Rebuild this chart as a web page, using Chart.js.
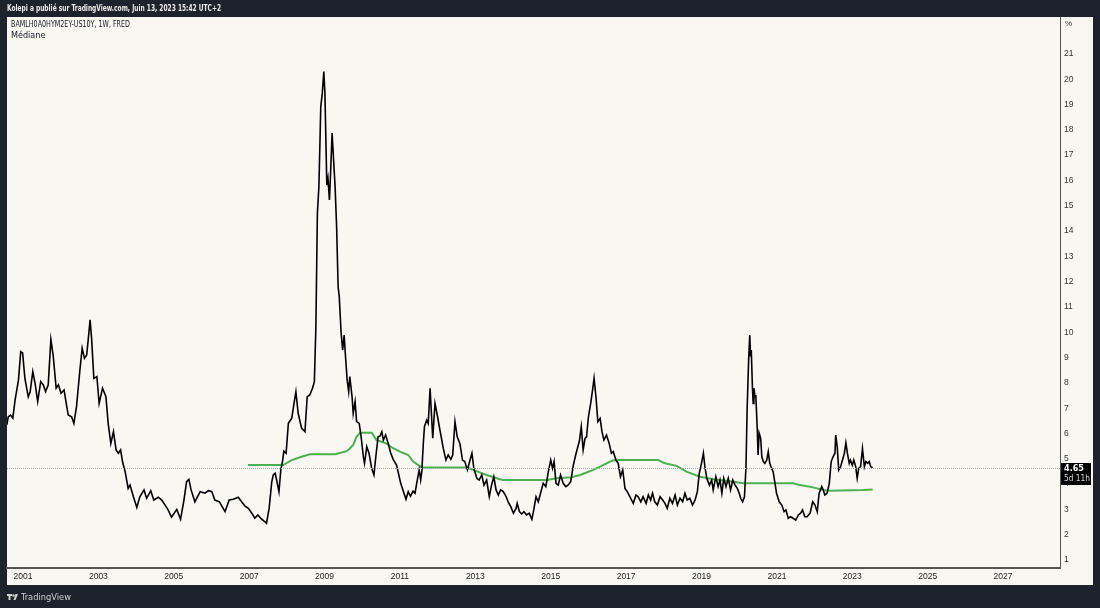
<!DOCTYPE html>
<html>
<head>
<meta charset="utf-8">
<script src="https://cdn.jsdelivr.net/npm/chart.js@4.4.0/dist/chart.umd.min.js"></script>
<style>
  html, body { margin: 0; padding: 0; background: #1e222d; }
  #wrap { width: 1100px; height: 608px; position: relative; }
</style>
</head>
<body>
<div id="wrap"><canvas id="grafica" width="1100" height="608"></canvas></div>
<script>
// spread high yield - US10Y, semanal (lectura aproximada)
var hyYears = [2000.57,2000.61,2000.67,2000.73,2000.79,2000.88,2000.94,2000.99,2001.05,2001.14,2001.19,2001.26,2001.32,2001.39,2001.47,2001.54,2001.60,2001.67,2001.74,2001.80,2001.88,2001.94,2002.01,2002.09,2002.14,2002.20,2002.29,2002.35,2002.42,2002.51,2002.57,2002.63,2002.69,2002.73,2002.78,2002.82,2002.88,2002.96,2003.02,2003.11,2003.20,2003.26,2003.33,2003.40,2003.47,2003.53,2003.59,2003.64,2003.71,2003.79,2003.84,2003.93,2004.02,2004.10,2004.21,2004.28,2004.39,2004.47,2004.59,2004.68,2004.77,2004.85,2004.94,2005.08,2005.18,2005.27,2005.34,2005.40,2005.46,2005.56,2005.70,2005.83,2005.92,2006.01,2006.09,2006.21,2006.36,2006.47,2006.58,2006.71,2006.80,2006.89,2006.98,2007.07,2007.15,2007.23,2007.33,2007.42,2007.46,2007.53,2007.60,2007.64,2007.69,2007.73,2007.79,2007.84,2007.89,2007.92,2007.98,2008.04,2008.13,2008.19,2008.24,2008.30,2008.39,2008.48,2008.54,2008.61,2008.68,2008.73,2008.77,2008.81,2008.85,2008.90,2008.94,2008.98,2009.01,2009.06,2009.09,2009.13,2009.16,2009.20,2009.24,2009.28,2009.32,2009.36,2009.39,2009.44,2009.48,2009.52,2009.55,2009.60,2009.64,2009.67,2009.73,2009.76,2009.81,2009.85,2009.92,2009.97,2010.03,2010.06,2010.12,2010.18,2010.25,2010.31,2010.36,2010.42,2010.47,2010.52,2010.56,2010.62,2010.69,2010.75,2010.82,2010.91,2010.96,2011.02,2011.09,2011.16,2011.22,2011.28,2011.35,2011.40,2011.46,2011.51,2011.55,2011.58,2011.62,2011.65,2011.71,2011.75,2011.80,2011.83,2011.87,2011.93,2011.99,2012.06,2012.15,2012.22,2012.28,2012.35,2012.40,2012.46,2012.52,2012.59,2012.66,2012.72,2012.79,2012.86,2012.91,2012.96,2013.04,2013.10,2013.17,2013.23,2013.30,2013.37,2013.43,2013.49,2013.55,2013.61,2013.67,2013.74,2013.81,2013.87,2013.94,2014.01,2014.08,2014.11,2014.17,2014.23,2014.29,2014.36,2014.43,2014.50,2014.55,2014.61,2014.67,2014.73,2014.80,2014.87,2014.93,2015.00,2015.05,2015.09,2015.14,2015.20,2015.26,2015.33,2015.40,2015.46,2015.53,2015.60,2015.67,2015.76,2015.81,2015.86,2015.91,2015.95,2016.00,2016.06,2016.11,2016.15,2016.20,2016.25,2016.31,2016.36,2016.41,2016.48,2016.55,2016.61,2016.66,2016.73,2016.79,2016.85,2016.91,2016.97,2017.03,2017.10,2017.19,2017.26,2017.32,2017.39,2017.45,2017.53,2017.59,2017.65,2017.70,2017.76,2017.83,2017.90,2017.97,2018.03,2018.09,2018.16,2018.23,2018.30,2018.36,2018.43,2018.50,2018.56,2018.62,2018.69,2018.76,2018.83,2018.89,2018.94,2019.00,2019.05,2019.09,2019.14,2019.21,2019.27,2019.31,2019.38,2019.44,2019.49,2019.54,2019.59,2019.65,2019.71,2019.77,2019.83,2019.89,2019.95,2020.00,2020.04,2020.09,2020.14,2020.18,2020.21,2020.25,2020.28,2020.30,2020.32,2020.35,2020.37,2020.39,2020.42,2020.44,2020.48,2020.50,2020.53,2020.57,2020.60,2020.64,2020.68,2020.73,2020.77,2020.81,2020.86,2020.90,2020.95,2020.99,2021.06,2021.13,2021.19,2021.24,2021.30,2021.36,2021.43,2021.50,2021.57,2021.63,2021.68,2021.74,2021.80,2021.88,2021.95,2022.01,2022.07,2022.12,2022.19,2022.23,2022.27,2022.33,2022.39,2022.44,2022.49,2022.54,2022.56,2022.60,2022.64,2022.69,2022.74,2022.79,2022.83,2022.87,2022.92,2022.95,2023.00,2023.04,2023.09,2023.13,2023.17,2023.22,2023.27,2023.32,2023.36,2023.41,2023.45,2023.49,2023.54];
var hyValues = [6.34,6.66,6.73,6.61,7.32,8.11,9.23,9.18,8.19,7.45,7.65,8.44,7.99,7.26,8.05,7.92,7.65,7.92,9.72,9.10,7.79,7.92,7.59,7.72,7.26,6.73,6.66,6.40,7.06,8.51,9.37,8.97,9.10,9.70,10.49,9.76,8.18,8.25,7.19,7.79,7.45,6.40,5.61,6.07,5.35,5.22,5.35,4.89,4.49,3.83,3.96,3.50,3.08,3.50,3.77,3.44,3.74,3.37,3.48,3.37,3.17,2.98,2.69,3.00,2.61,3.37,4.10,4.19,3.77,3.30,3.70,3.64,3.74,3.70,3.37,3.30,2.91,3.37,3.40,3.48,3.30,3.13,3.04,2.85,2.65,2.78,2.61,2.51,2.45,3.04,4.10,4.36,4.43,4.16,3.70,4.56,4.95,5.30,5.22,6.40,6.60,7.19,7.65,6.80,6.21,6.07,7.45,7.52,7.79,8.05,10.22,14.70,15.75,18.92,19.45,20.30,19.45,15.82,16.09,15.23,16.28,17.87,16.81,15.75,14.17,11.80,11.41,9.96,9.30,9.89,9.17,8.11,7.65,8.25,7.45,6.80,7.26,6.47,6.40,5.87,5.08,4.82,5.48,5.22,4.62,4.36,5.08,5.87,5.90,6.07,5.74,5.94,5.60,5.25,4.98,4.75,4.43,4.03,3.72,3.40,3.70,3.52,3.72,3.64,4.16,4.56,4.16,4.49,5.61,6.27,6.53,6.40,7.79,6.93,5.81,7.19,6.73,6.14,5.41,4.95,5.15,4.98,5.15,6.47,5.87,5.61,4.95,4.89,4.56,4.95,5.22,4.62,4.23,4.16,4.36,3.96,4.16,3.50,3.96,4.29,3.77,3.57,3.77,3.70,3.53,3.30,3.11,2.85,3.04,3.24,2.91,2.82,2.91,2.78,2.85,2.61,2.98,3.50,3.30,3.64,4.03,3.90,4.43,4.95,4.62,4.89,4.03,3.96,4.36,4.03,3.90,3.96,4.10,4.75,5.20,5.70,6.27,5.35,5.81,5.87,6.66,7.19,7.72,8.18,7.45,6.47,6.60,6.07,5.74,5.94,5.61,5.22,5.28,4.95,4.82,4.29,4.56,3.83,3.70,3.50,3.24,3.57,3.50,3.30,3.50,3.24,3.57,3.37,3.64,3.30,3.17,3.50,3.37,3.24,3.04,3.44,3.24,3.57,3.17,3.44,3.30,3.64,3.37,3.44,3.17,3.37,3.70,4.43,4.82,5.22,4.69,4.23,3.96,4.16,3.77,4.29,3.90,4.16,3.64,4.23,3.90,4.23,3.77,4.16,3.96,3.83,3.64,3.44,3.30,3.50,4.69,6.93,8.91,9.89,9.04,9.30,7.85,7.19,7.79,7.45,7.52,6.14,5.15,6.01,5.81,5.08,4.89,4.82,4.95,5.28,4.82,4.62,4.49,4.03,3.64,3.30,3.17,2.91,2.98,2.65,2.71,2.65,2.58,2.78,2.85,2.98,2.71,2.71,2.85,3.30,3.17,2.91,3.64,3.90,3.77,3.57,3.64,4.03,4.89,5.08,5.22,5.94,5.48,4.56,4.69,4.95,5.22,5.63,5.22,4.82,4.95,4.75,4.95,4.69,4.23,4.62,4.69,5.41,4.69,4.89,4.82,4.89,4.69,4.65];

// mediana
var medYears = [2006.97,2007.90,2008.13,2008.39,2008.61,2009.28,2009.59,2009.67,2009.76,2009.85,2009.94,2010.25,2010.38,2010.65,2010.78,2011.00,2011.22,2011.35,2011.58,2012.77,2012.94,2013.30,2013.65,2013.74,2014.89,2015.16,2015.55,2015.78,2016.13,2016.39,2016.62,2016.75,2017.85,2018.03,2018.34,2018.60,2018.96,2019.31,2019.75,2020.11,2021.43,2021.61,2021.96,2022.23,2022.40,2023.29,2023.54];
var medValues = [4.75,4.75,4.95,5.08,5.18,5.18,5.30,5.41,5.55,5.87,6.03,6.03,5.74,5.60,5.45,5.28,5.15,4.89,4.66,4.66,4.56,4.36,4.19,4.16,4.16,4.23,4.27,4.36,4.56,4.75,4.92,4.95,4.95,4.82,4.72,4.49,4.29,4.19,4.11,4.03,4.03,3.96,3.87,3.77,3.74,3.77,3.79];

var yearTicks = [2001,2003,2005,2007,2009,2011,2013,2015,2017,2019,2021,2023,2025,2027];
var priceTicks = [1,2,3,4,5,6,7,8,9,10,11,12,13,14,15,16,17,18,19,20,21];
var lastValue = 4.65;
var lastLabel = '4.65';
var countdownLabel = '5d 11h';

var colorFondo = '#1e222d';
var colorPanel = '#f8f7f2';
var fuente = '"Liberation Sans", Arial, sans-serif';
var fuenteNarrow = '"DejaVu Sans Condensed", "Liberation Sans", sans-serif';

function armarPuntos(xs, ys) {
  var pts = [];
  for (var i = 0; i < xs.length; i++) {
    pts.push({ x: xs[i], y: ys[i] });
  }
  return pts;
}

var marco = {
  id: 'marco',
  beforeDraw: function (chart) {
    var ctx = chart.ctx;
    ctx.save();
    ctx.fillStyle = colorFondo;
    ctx.fillRect(0, 0, chart.width, chart.height);
    ctx.fillStyle = colorPanel;
    ctx.fillRect(7, 17, 1086, 568);
    ctx.restore();
  },
  afterDatasetsDraw: function (chart) {
    var ctx = chart.ctx;
    var area = chart.chartArea;
    var yS = chart.scales.y;
    var yy = Math.round(yS.getPixelForValue(lastValue)) + 0.5;
    ctx.save();
    // linea punteada del ultimo valor
    ctx.strokeStyle = '#a8a8a8';
    ctx.lineWidth = 1;
    ctx.setLineDash([1, 1]);
    ctx.beginPath();
    ctx.moveTo(area.left, yy);
    ctx.lineTo(area.right, yy);
    ctx.stroke();
    ctx.restore();
  },
  afterDraw: function (chart) {
    var ctx = chart.ctx;
    var area = chart.chartArea;
    var yS = chart.scales.y;
    var yy = yS.getPixelForValue(lastValue);
    ctx.save();
    // etiqueta del precio
    ctx.fillStyle = '#000000';
    ctx.fillRect(area.right + 1, Math.round(yy) - 5, 30, 22);
    ctx.fillStyle = '#ffffff';
    ctx.font = 'bold 9px ' + fuenteNarrow;
    ctx.textBaseline = 'middle';
    ctx.textAlign = 'left';
    ctx.fillText(lastLabel, area.right + 4, Math.round(yy) + 0.5);
    ctx.fillStyle = '#d8d8d8';
    ctx.font = '9px ' + fuenteNarrow;
    ctx.fillText(countdownLabel, area.right + 4, Math.round(yy) + 11, 26);

    // unidad
    ctx.fillStyle = '#333333';
    ctx.font = '8px ' + fuente;
    ctx.fillText('%', area.right + 5, 24);

    // titulos
    ctx.fillStyle = '#131722';
    ctx.font = '9px ' + fuenteNarrow;
    ctx.fillText('BAMLH0A0HYM2EY-US10Y, 1W, FRED', 11, 25, 119);
    ctx.fillText('Médiane', 11, 36);

    ctx.fillStyle = '#ececec';
    ctx.font = '600 9px ' + fuenteNarrow;
    ctx.fillText('Kolepi a publié sur TradingView.com, Juin 13, 2023 15:42 UTC+2', 7, 9, 214);

    // logo pie
    ctx.fillStyle = '#d0d0d0';
    ctx.fillRect(7, 594, 5, 2);
    ctx.fillRect(8.5, 594, 2, 6);
    ctx.beginPath();
    ctx.arc(13.5, 595.5, 1.2, 0, Math.PI * 2);
    ctx.fill();
    ctx.beginPath();
    ctx.moveTo(15.5, 594);
    ctx.lineTo(18, 594);
    ctx.lineTo(15.5, 600);
    ctx.lineTo(13.5, 600);
    ctx.closePath();
    ctx.fill();
    ctx.font = '9.5px ' + fuenteNarrow;
    ctx.fillText('TradingView', 21, 597.5, 50);
    ctx.restore();
  }
};

var ctx = document.getElementById('grafica');
var grafica = new Chart(ctx, {
  type: 'line',
  data: {
    datasets: [
      {
        label: 'BAMLH0A0HYM2EY-US10Y',
        data: armarPuntos(hyYears, hyValues),
        borderColor: '#000000',
        borderWidth: 1.6,
        pointRadius: 0,
        tension: 0,
        fill: false
      },
      {
        label: 'Médiane',
        data: armarPuntos(medYears, medValues),
        borderColor: '#4caf50',
        borderWidth: 2,
        pointRadius: 0,
        tension: 0,
        fill: false
      }
    ]
  },
  options: {
    responsive: false,
    animation: false,
    layout: { padding: { left: 7, top: 17, right: 7, bottom: 23 } },
    plugins: {
      legend: { display: false },
      tooltip: { enabled: false }
    },
    scales: {
      x: {
        type: 'linear',
        min: 2000.576,
        max: 2028.51,
        afterBuildTicks: function (scale) {
          scale.ticks = yearTicks.map(function (v) { return { value: v }; });
        },
        afterFit: function (scale) { scale.height = 17; },
        grid: { display: false, drawTicks: false },
        border: { display: true, color: '#555555', width: 2 },
        ticks: {
          autoSkip: false,
          maxRotation: 0,
          padding: 4,
          color: '#222222',
          font: { family: fuente, size: 8.5 },
          callback: function (v) { return String(v); }
        }
      },
      y: {
        type: 'linear',
        position: 'right',
        min: 0.684,
        max: 22.46,
        afterBuildTicks: function (scale) {
          scale.ticks = priceTicks.map(function (v) { return { value: v }; });
        },
        afterFit: function (scale) { scale.width = 33; },
        grid: { display: false, drawTicks: false },
        border: { display: true, color: '#555555', width: 1 },
        ticks: {
          padding: 4,
          color: '#333333',
          font: { family: fuente, size: 8.5 },
          callback: function (v) { return String(v); }
        }
      }
    }
  },
  plugins: [marco]
});
</script>
</body>
</html>
